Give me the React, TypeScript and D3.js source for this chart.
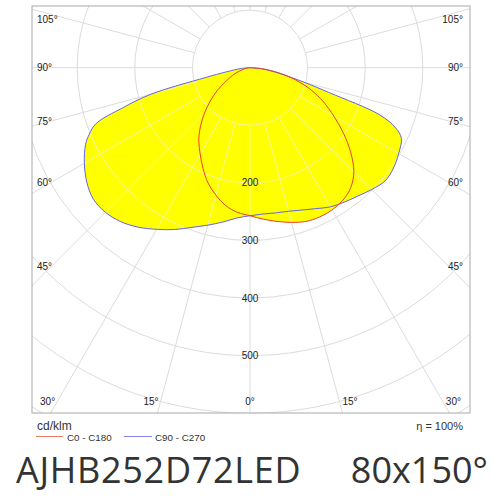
import React from 'react';
import * as d3 from 'd3';

// gamma angles (deg from nadir) shared by all half-planes
const angles = [0, 5, 10, 15, 20, 25, 30, 35, 40, 45, 50, 55, 60, 65, 67.5, 70, 72.5, 75, 77.5, 80, 85, 90];
// C0 - C180 plane (red)
const c180Values = [257, 252, 243, 229, 213, 193, 173, 155, 134, 112, 90, 70, 50, 36, 30, 24, 19, 15, 11, 8, 4, 0];
const c0Values = [257, 264, 271, 278, 284, 286, 285, 281, 272, 255, 228, 198, 168, 141, 127, 113, 98, 82, 66, 50, 22, 0];
// C90 - C270 plane (blue)
const c270Values = [257, 262, 272, 283, 295, 310, 324, 338, 349, 355, 355, 346, 332, 315, 302, 285, 232, 178, 80, 42, 15, 0];
const c90Values = [257, 255, 256, 258, 263, 270, 279, 285, 291, 299, 306, 304, 298, 290, 274, 240, 145, 97, 65, 45, 20, 0];

const ringTicks = [100, 200, 300, 400, 500, 600, 700];
const ringLabels = [200, 300, 400, 500];
const angleTicks = [0, 15, 30, 45, 60, 75, 90, 105];
const spokeAngles = d3.range(0, 360, 15);

const unitLabel = 'cd/klm';
const legendC0 = 'C0 - C180';
const legendC90 = 'C90 - C270';
const efficiency = 'η = 100%';
const title = 'AJHB252D72LED';
const beam = '80x150°';

const W = 500, H = 500;
const box = { x: 32, y: 6, w: 438, h: 407 };
const cx = 250, cy = 67.7;
const LABEL_FONT = '"Liberation Sans", Arial, sans-serif';

export default function App() {
  const r = d3.scaleLinear().domain([0, 100]).range([0, 57.6]);
  const rad = (d: number) => (d * Math.PI) / 180;

  type P = { a: number; v: number };
  const buildPlane = (left: number[], right: number[]): P[] => {
    const pts: P[] = [];
    for (let i = angles.length - 1; i >= 0; i--) pts.push({ a: Math.PI + rad(angles[i]), v: left[i] });
    for (let i = 1; i < angles.length; i++) pts.push({ a: Math.PI - rad(angles[i]), v: right[i] });
    return pts;
  };
  const line = d3
    .lineRadial<P>()
    .angle((d) => d.a)
    .radius((d) => r(d.v))
    .curve(d3.curveCatmullRom.alpha(0.5));

  const redPath = line(buildPlane(c180Values, c0Values)) || '';
  const bluePath = line(buildPlane(c270Values, c90Values)) || '';

  // label placement
  const halfW = 199, down = 334;
  type L = { x: number; y: number; anchor: string; text: string };
  const labels: L[] = [];
  angleTicks.forEach((t) => {
    const tr = rad(t);
    if (t < 90 && Math.tan(tr) * down <= halfW) {
      const dx = Math.tan(tr) * down;
      if (t === 0) labels.push({ x: cx, y: cy + down, anchor: 'middle', text: `${t}°` });
      else {
        labels.push({ x: cx - dx - 2, y: cy + down, anchor: 'end', text: `${t}°` });
        labels.push({ x: cx + dx + 3, y: cy + down, anchor: 'start', text: `${t}°` });
      }
    } else {
      const y = Math.max(box.y + 13, cy + halfW * (Math.cos(tr) / Math.sin(tr)));
      labels.push({ x: box.x + 5, y, anchor: 'start', text: `${t}°` });
      labels.push({ x: box.x + box.w - 7, y, anchor: 'end', text: `${t}°` });
    }
  });

  const red = '#e8402a';
  const blue = '#6464e6';

  const grid = (stroke: string) => (
    <g stroke={stroke} fill="none" strokeWidth={1}>
      {ringTicks.map((t) => (
        <circle key={t} r={r(t)} />
      ))}
      {spokeAngles.map((a) => {
        const ar = rad(a);
        const r0 = r(100), r1 = r(1000);
        return (
          <line
            key={a}
            x1={Math.sin(ar) * r0}
            y1={Math.cos(ar) * r0}
            x2={Math.sin(ar) * r1}
            y2={Math.cos(ar) * r1}
          />
        );
      })}
    </g>
  );

  return (
    <svg
      width={W}
      height={H}
      viewBox={`0 0 ${W} ${H}`}
      style={{ position: 'absolute', left: 0, top: 0, background: '#fff' }}
    >
      <defs>
        <clipPath id="plotClip">
          <rect x={box.x} y={box.y} width={box.w} height={box.h} />
        </clipPath>
        <clipPath id="fillClip">
          <path d={bluePath} />
          <path d={redPath} />
        </clipPath>
      </defs>
      <g clipPath="url(#plotClip)">
        <g transform={`translate(${cx},${cy})`}>
          {grid('#dcdcdc')}
          <path d={bluePath} fill="#ffff00" stroke="none" />
          <path d={redPath} fill="#ffff00" stroke="none" />
          <g clipPath="url(#fillClip)">{grid('#f4f49c')}</g>
          <path d={bluePath} fill="none" stroke={blue} strokeWidth={1} />
          <path d={redPath} fill="none" stroke={red} strokeWidth={1} />
          <g fontFamily={LABEL_FONT} fontSize={10} fill="#222" textAnchor="middle">
            {ringLabels.map((t) => (
              <text key={t} x={0} y={r(t)} dy="0.35em">
                {t}
              </text>
            ))}
          </g>
        </g>
      </g>
      <rect x={box.x} y={box.y} width={box.w} height={box.h} fill="none" stroke="#a8a8a8" strokeWidth={1} />
      <g fontFamily={LABEL_FONT} fontSize={10} fill="#222">
        {labels.map((l, i) => (
          <text key={i} x={l.x} y={l.y} dy="0.35em" textAnchor={l.anchor}>
            {l.text}
          </text>
        ))}
      </g>
      <g fontFamily={LABEL_FONT} fill="#333">
        <text x={37} y={430} fontSize={12}>
          {unitLabel}
        </text>
        <line x1={36} x2={63} y1={436.5} y2={436.5} stroke={red} strokeOpacity={0.7} />
        <text x={67} y={440.5} fontSize={9.8}>
          {legendC0}
        </text>
        <line x1={124} x2={152} y1={436.5} y2={436.5} stroke={blue} strokeOpacity={0.8} />
        <text x={155} y={440.5} fontSize={9.8}>
          {legendC90}
        </text>
        <text x={463} y={430} fontSize={11} textAnchor="end">
          {efficiency}
        </text>
      </g>
      <g fontFamily='"Open Sans", sans-serif' fill="#333" fontSize={36}>
        <text x={16} y={482.5} letterSpacing={0.7}>
          {title}
        </text>
        <text x={488} y={482.5} textAnchor="end">
          {beam}
        </text>
      </g>
    </svg>
  );
}
